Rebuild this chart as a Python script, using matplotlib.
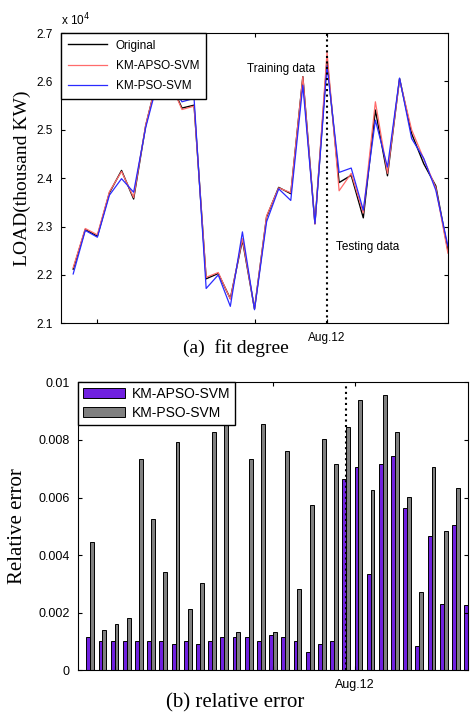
import numpy as np
import matplotlib
matplotlib.use('Agg')
import matplotlib.pyplot as plt

plt.rcParams['font.family'] = ['Liberation Sans', 'DejaVu Sans']

# valores de carga (x 10^4 KW), 32 dias
original = [2.212, 2.294, 2.280, 2.370, 2.416, 2.357, 2.509, 2.610, 2.600, 2.545,
            2.551, 2.192, 2.203, 2.151, 2.272, 2.130, 2.320, 2.381, 2.368, 2.610,
            2.306, 2.645, 2.391, 2.406, 2.318, 2.541, 2.405, 2.606, 2.492, 2.430,
            2.384, 2.251]
km_apso = [2.215, 2.296, 2.283, 2.372, 2.414, 2.360, 2.510, 2.610, 2.600, 2.542,
           2.549, 2.195, 2.205, 2.150, 2.275, 2.130, 2.322, 2.380, 2.370, 2.610,
           2.305, 2.660, 2.374, 2.410, 2.328, 2.558, 2.410, 2.604, 2.500, 2.440,
           2.380, 2.245]
km_pso = [2.202, 2.292, 2.278, 2.365, 2.399, 2.371, 2.505, 2.600, 2.600, 2.558,
          2.565, 2.172, 2.200, 2.135, 2.289, 2.128, 2.310, 2.378, 2.354, 2.592,
          2.306, 2.632, 2.412, 2.421, 2.334, 2.520, 2.423, 2.607, 2.482, 2.441,
          2.375, 2.260]

# error relativo
err_apso = [0.00114, 0.00102, 0.00102, 0.00102, 0.00102, 0.00102, 0.00102, 0.00090,
            0.00102, 0.00090, 0.00102, 0.00114, 0.00114, 0.00114, 0.00103, 0.00122,
            0.00114, 0.00103, 0.00063, 0.00090, 0.00103, 0.00664, 0.00705, 0.00335,
            0.00715, 0.00744, 0.00562, 0.00083, 0.00466, 0.00232, 0.00504, 0.00226]
err_pso = [0.00444, 0.00141, 0.00161, 0.00181, 0.00735, 0.00524, 0.00342, 0.00794,
           0.00212, 0.00304, 0.00826, 0.00900, 0.00133, 0.00735, 0.00855, 0.00133,
           0.00763, 0.00284, 0.00574, 0.00802, 0.00717, 0.00846, 0.00937, 0.00626,
           0.00957, 0.00826, 0.00603, 0.00272, 0.00705, 0.00485, 0.00634, 0.00300]

dias = np.arange(1, len(original) + 1)
corte = 22  # Aug.12

fig = plt.figure(figsize=(4.7, 7.2), dpi=100)
serif = ['Liberation Serif', 'DejaVu Serif']

def px(x, y):
    # pixel desde arriba-izquierda -> coordenadas de figura
    return x / 470, 1 - y / 720

# ---------- (a) fit degree ----------
ax1 = fig.add_axes([0.130, 0.551, 0.823, 0.403])
ax1.plot(dias, original, color='k', linewidth=1.0, label='Original')
ax1.plot(dias, km_apso, color='#ff6b6b', linewidth=0.9, label='KM-APSO-SVM')
ax1.plot(dias, km_pso, color='#2a2aff', linewidth=0.9, label='KM-PSO-SVM')
ax1.axvline(corte, color='k', linestyle=':', linewidth=1.5)
ax1.set_xlim(0, 32)
ax1.set_ylim(2.1, 2.7)
ax1.set_yticks([2.1, 2.2, 2.3, 2.4, 2.5, 2.6, 2.7])
ax1.set_yticklabels(['2.1', '2.2', '2.3', '2.4', '2.5', '2.6', '2.7'])
ax1.set_xticks([3, 16, corte])
ax1.set_xticklabels(['', '', 'Aug.12'])
ax1.tick_params(direction='in', length=3, labelsize=8.5, top=True, right=True, pad=6)
ax1.text(0.0, 1.015, 'x 10$^4$', transform=ax1.transAxes, fontsize=8.5, va='bottom')
ax1.set_ylabel('LOAD(thousand KW)', family=serif, fontsize=14, labelpad=4)
fig.text(*px(281, 69), 'Training data', fontsize=8.5, ha='center', va='center')
fig.text(*px(336, 247), 'Testing data', fontsize=8.5, ha='left', va='center')
fig.text(*px(236, 348), '(a)  fit degree', family=serif, fontsize=14,
         ha='center', va='center')
leg1 = ax1.legend(loc='upper left', borderaxespad=0, fancybox=False, edgecolor='k',
                  fontsize=8.5, handlelength=3.3, framealpha=1, borderpad=0.55,
                  labelspacing=0.7)
leg1.get_frame().set_linewidth(1.0)

# ---------- (b) relative error ----------
ax2 = fig.add_axes([0.166, 0.069, 0.830, 0.400])
ancho = 0.32
ax2.bar(dias - 0.16, err_apso, width=ancho, color='#7020e0', edgecolor='k',
        linewidth=0.7, label='KM-APSO-SVM')
ax2.bar(dias + 0.16, err_pso, width=ancho, color='#808080', edgecolor='k',
        linewidth=0.7, label='KM-PSO-SVM')
ax2.axvline(corte, color='k', linestyle=':', linewidth=1.5)
ax2.set_xlim(0, 32)
ax2.set_ylim(0, 0.01)
ax2.set_yticks([0, 0.002, 0.004, 0.006, 0.008, 0.01])
ax2.set_yticklabels(['0', '0.002', '0.004', '0.006', '0.008', '0.01'])
ax2.set_xticks([3, 16, 22.7])
ax2.set_xticklabels(['', '', 'Aug.12'])
ax2.tick_params(direction='in', length=3, labelsize=9, top=True, right=True, pad=6)
ax2.set_ylabel('Relative error', family=serif, fontsize=15, labelpad=8)
fig.text(*px(235, 703), '(b) relative error', family=serif, fontsize=15,
         ha='center', va='center')
leg2 = ax2.legend(loc='upper left', borderaxespad=0, fancybox=False, edgecolor='k',
                  fontsize=10, handlelength=3.0, framealpha=1, borderpad=0.35,
                  labelspacing=0.35, handletextpad=0.5)
leg2.get_frame().set_linewidth(1.0)

plt.savefig('out.png', dpi=100)
